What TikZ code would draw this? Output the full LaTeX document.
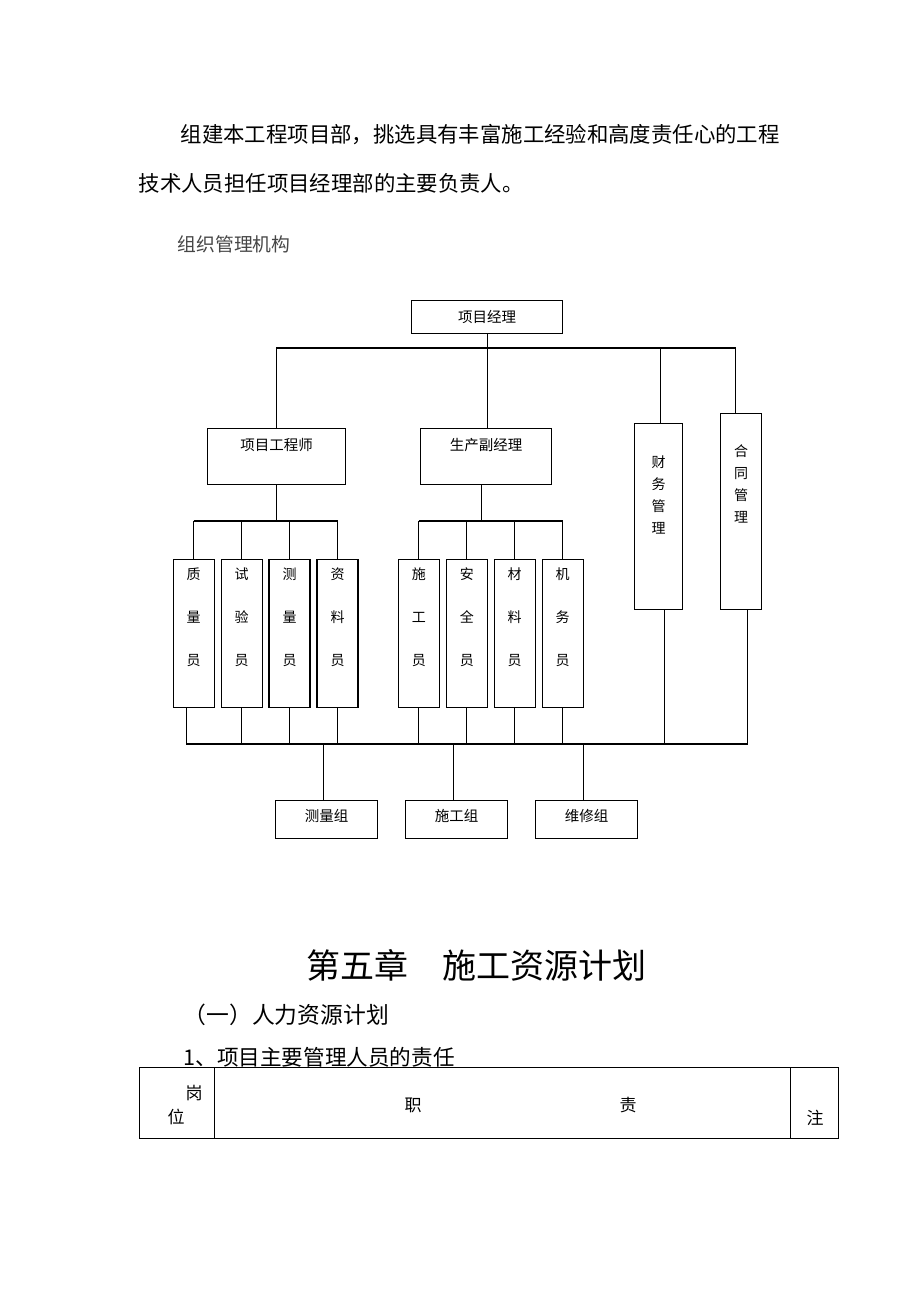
\documentclass[tikz,border=0pt]{standalone}
\usepackage{fontspec}
\setmainfont{Noto Sans CJK SC}
\usetikzlibrary{positioning,calc}
\definecolor{capgray}{RGB}{70,70,70}

\begin{document}
\begin{tikzpicture}[x=1pt,y=-1pt,line width=1.2pt,
  box/.style={draw,rectangle,anchor=north west,inner xsep=0pt,inner ysep=0pt,font=\fontsize{14.5}{14.5}\selectfont},
  wide/.style={box,text height=21.5pt,text depth=34.5pt},
  tall/.style={box,align=center,minimum width=41pt,text height=105.5pt,text depth=42.5pt,font=\fontsize{14}{43}\selectfont},
  side/.style={box,align=center,font=\fontsize{14}{22}\selectfont},
  group/.style={box,minimum width=102pt,text height=21pt,text depth=17pt},
  cell/.style={draw,rectangle,anchor=north west,line width=0.9pt,minimum height=71pt,inner sep=0pt},
  body/.style={anchor=west,inner sep=0pt,font=\fontsize{21.4}{21.4}\selectfont}]
  \fill[white] (0,0) rectangle (920,1302);

  % text above the chart
  \node[body] (para1) at (180,135) {组建本工程项目部，挑选具有丰富施工经验和高度责任心的工程};
  \node[body] (para2) at (138,183) {技术人员担任项目经理部的主要负责人。};
  \node[body,text=capgray,font=\fontsize{18.8}{18.8}\selectfont] (cap) at (177,244) {组织管理机构};

  % chart boxes
  \node[box,minimum width=151pt,minimum height=33pt] (pm) at (411,300) {项目经理};
  \node[wide,minimum width=138pt] (eng) at (207,428) {项目工程师};
  \node[wide,minimum width=131pt] (dep) at (420,428) {生产副经理};
  \node[side,minimum width=48pt,text height=109.5pt,text depth=76.5pt] (fin) at (634,423) {财\\务\\管\\理};
  \node[side,minimum width=41pt,text height=108.5pt,text depth=87.5pt] (con) at (720,413) {合\\同\\管\\理};

  \node[tall] (qc) at (172.6,559) {质\\量\\员};
  \node[tall] (test) at (220.5,559) {试\\验\\员};
  \node[tall] (survey) at (268.4,559) {测\\量\\员};
  \node[tall] (doc) at (316.4,559) {资\\料\\员};
  \node[tall] (build) at (397.7,559) {施\\工\\员};
  \node[tall] (safety) at (445.7,559) {安\\全\\员};
  \node[tall] (mat) at (493.6,559) {材\\料\\员};
  \node[tall] (mech) at (541.5,559) {机\\务\\员};

  \node[group] (gsurvey) at (275,800) {测量组};
  \node[group] (gbuild) at (405,800) {施工组};
  \node[group] (grepair) at (535,800) {维修组};

  % connectors
  \coordinate (b1) at (0,348);
  \coordinate (b2) at (0,521);
  \coordinate (b3) at (0,744);
  \coordinate (conin) at ([xshift=-6pt]con.north);
  \draw (pm.south) -- (pm.south |- dep.north);
  \draw (eng.north) |- (b1 -| conin) -- (conin);
  \draw ([xshift=2pt]fin.north) -- ([xshift=2pt]fin.north |- b1);

  \draw (eng.south) -- (eng.south |- b2);
  \draw ([xshift=-5pt]dep.south) -- ([xshift=-5pt]dep.south |- b2);
  \draw (qc.north |- b2) -- (doc.north |- b2);
  \draw (build.north |- b2) -- (mech.north |- b2);
  \foreach \n in {qc,test,survey,doc,build,safety,mat,mech}
    \draw (\n.north) -- (\n.north |- b2);

  \foreach \n in {test,survey,doc,build,safety,mat,mech}
    \draw (\n.south) -- (\n.south |- b3);
  \draw ([xshift=-7pt]qc.south) -- ([xshift=-7pt]qc.south |- b3) -- ([xshift=6.5pt]con.south |- b3) -- ([xshift=6.5pt]con.south);
  \draw ([xshift=6pt]fin.south) -- ([xshift=6pt]fin.south |- b3);
  \foreach \n in {gsurvey,gbuild,grepair}
    \draw ([xshift=-3pt]\n.north) -- ([xshift=-3pt]\n.north |- b3);

  % chapter heading and table
  \node[font=\fontsize{34}{34}\selectfont,inner sep=0pt] (chap) at (476.5,965) {第五章　施工资源计划};
  \node[body,font=\fontsize{22.8}{22.8}\selectfont] (sec) at (183,1015) {（一）人力资源计划};
  \node[body,font=\fontsize{21.6}{21.6}\selectfont] (sub) at (183,1057) {1、项目主要管理人员的责任};

  \node[cell,minimum width=75pt] (post) at (139,1067) {};
  \node[cell,minimum width=576pt] (duty) at (214,1067) {};
  \node[cell,minimum width=48pt] (note) at (790,1067) {};
  \node[font=\fontsize{17}{17}\selectfont,inner sep=0pt] (postA) at (194,1093) {岗};
  \node[font=\fontsize{17}{17}\selectfont,inner sep=0pt] (postB) at (176,1117) {位};
  \node[font=\fontsize{17}{17}\selectfont,inner sep=0pt] (dutyA) at (413,1105) {职};
  \node[font=\fontsize{17}{17}\selectfont,inner sep=0pt] (dutyB) at (628,1105) {责};
  \node[font=\fontsize{17}{17}\selectfont,inner sep=0pt] (noteA) at (815,1118) {注};
\end{tikzpicture}
\end{document}
